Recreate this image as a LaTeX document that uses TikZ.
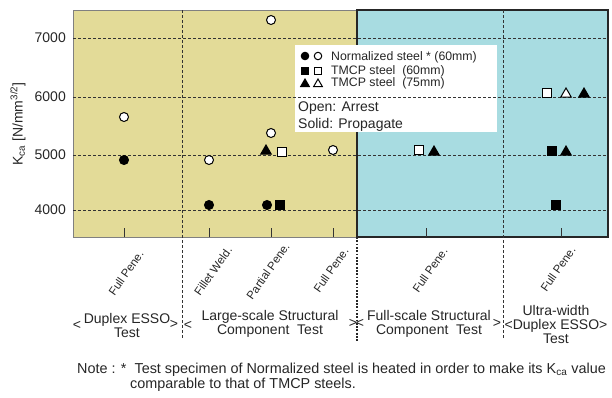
\documentclass[tikz,border=0pt]{standalone}
\usepackage{fontspec}
\setmainfont{Liberation Sans}
\usetikzlibrary{shapes.geometric}
\definecolor{ylw}{HTML}{E3DB98}
\definecolor{blu}{HTML}{A8DCE1}
\definecolor{grd}{HTML}{333333}
\newcommand{\slant}[1]{\rotatebox{55}{#1}}
\begin{document}
\begin{tikzpicture}[x=1pt,y=-1pt,
  grid/.style={grd, line width=0.9pt, dash pattern=on 3pt off 2pt},
  mk/.style={draw=black, line width=1pt, inner sep=0pt},
  mOC/.style={mk, circle, minimum size=9pt, fill=white},
  mSC/.style={mk, circle, minimum size=9pt, fill=black},
  mOS/.style={mk, rectangle, minimum size=9pt, fill=white},
  mSS/.style={mk, rectangle, minimum size=9pt, fill=black},
  mOT/.style={mk, regular polygon, regular polygon sides=3, minimum size=12pt, fill=white},
  mST/.style={mk, regular polygon, regular polygon sides=3, minimum size=12pt, fill=black},
  small/.style={minimum size=7.5pt},
  smalltri/.style={minimum size=10pt},
  lbl/.style={font=\fontsize{14}{14}\selectfont, inner sep=0pt, text=black!85},
  leg/.style={font=\fontsize{12.3}{13}\selectfont, inner sep=0pt, anchor=west, text=black!85},
  rot/.style={font=\fontsize{11.5}{11.5}\selectfont, inner sep=0pt, text=black!85},
  grp/.style={font=\fontsize{14}{14}\selectfont, inner sep=0pt, align=center, text=black!85},
  tk/.style={grd, line width=0.9pt}
]
\useasboundingbox (0,0) rectangle (612,397);
% backgrounds
\fill[ylw] (73,10) rectangle (357,237);
\draw[gray, line width=0.8pt] (73,10) rectangle (357,237);
\fill[blu] (357,10) rectangle (608,237);
\draw[black!85, line width=1.8pt] (357,10) rectangle (608,237);
% legend box
\fill[white] (295,45) rectangle (497,132);
% horizontal grid
\foreach \yy in {38,97,155,210} \draw[grid] (73,\yy) -- (608,\yy);
% vertical dividers
\draw[grid] (182,10) -- (182,338);
\draw[grid] (503,10) -- (503,338);
\draw[black!85, line width=1.6pt, dash pattern=on 1.8pt off 1.5pt] (357,237) -- (357,342);
% bottom ticks
\foreach \xx in {124,209,271,333,426,561} \draw[tk] (\xx,237) -- (\xx,228);
% y tick labels
\node[lbl, anchor=east] (t7) at (66,38) {7000};
\node[lbl, anchor=east] (t6) at (66,97) {6000};
\node[lbl, anchor=east] (t5) at (66,155) {5000};
\node[lbl, anchor=east] (t4) at (66,210) {4000};
\node[lbl] (ylab) at (18,124) {\rotatebox{90}{K\textsubscript{ca} [N/mm\textsuperscript{3/2}]}};
% data points
\node[mOC] (a1) at (124,117) {};
\node[mSC] (a2) at (124,160) {};
\node[mOC] (b1) at (209,160) {};
\node[mSC] (b2) at (209,205) {};
\node[mOC] (c1) at (271,20) {};
\node[mOC] (c2) at (271,133) {};
\node[mST] (c3) at (266,151) {};
\node[mOS] (c4) at (282,152) {};
\node[mSC] (c5) at (267,205) {};
\node[mSS] (c6) at (280,205) {};
\node[mOC] (d1) at (333,150) {};
\node[mOS] (e1) at (419,150) {};
\node[mST] (e2) at (434,152) {};
\node[mOS] (f1) at (547,93) {};
\node[mOT] (f2) at (566,94) {};
\node[mST] (f3) at (584,94) {};
\node[mSS] (f4) at (552,151) {};
\node[mST] (f5) at (566,152) {};
\node[mSS] (f6) at (556,205) {};
% legend
\node[mSC, small] (l1) at (305,56) {};
\node[mOC, small] (l2) at (318,56) {};
\node[mSS, small] (l3) at (305,71) {};
\node[mOS, small] (l4) at (318,71) {};
\node[mST, smalltri] (l5) at (305,84) {};
\node[mOT, smalltri] (l6) at (318,84) {};
\node[leg] (lt1) at (331,57) {Normalized steel * (60mm)};
\node[leg] (lt2) at (331,71) {TMCP steel\ \ (60mm)};
\node[leg] (lt3) at (331,83) {TMCP steel\ \ (75mm)};
\node[leg, font=\fontsize{14}{14}\selectfont] (lt4) at (298,108) {Open: Arrest};
\node[leg, font=\fontsize{14}{14}\selectfont] (lt5) at (298,125) {Solid: Propagate};
% rotated labels
\node[rot] (r1) at (126,273) {\slant{Full Pene.}};
\node[rot] (r2) at (213,271) {\slant{Fillet Weld.}};
\node[rot] (r3) at (268,271) {\slant{Partial Pene.}};
\node[rot] (r4) at (331,270) {\slant{Full Pene.}};
\node[rot] (r5) at (430,270) {\slant{Full Pene.}};
\node[rot] (r6) at (558,269) {\slant{Full Pene.}};
% group labels
\node[grp] (g1) at (127,325) {Duplex ESSO\\Test};
\node[lbl] (g1l) at (77,325) {<};
\node[lbl] (g1r) at (174,324) {>};
\node[lbl] (g2l) at (188,325) {<};
\node[grp] (g2) at (270,324) {Large-scale Structural\\Component\ \ Test};
\node[lbl] (g2r) at (353,323) {>};
\node[lbl] (g3l) at (360,323) {<};
\node[grp] (g3) at (429,324) {Full-scale Structural\\Component\ \ Test};
\node[lbl] (g3r) at (497,323) {>};
\node[grp] (g4) at (556,324) {Ultra-width\\<Duplex ESSO>\\Test};
% note
\node[lbl, anchor=west, font=\fontsize{14.4}{14.4}\selectfont] (n1) at (77,370) {Note : *\ \ Test specimen of Normalized steel is heated in order to make its K\textsubscript{ca} value};
\node[lbl, anchor=west, font=\fontsize{14.4}{14.4}\selectfont] (n2) at (130,385) {comparable to that of TMCP steels.};
\end{tikzpicture}
\end{document}
